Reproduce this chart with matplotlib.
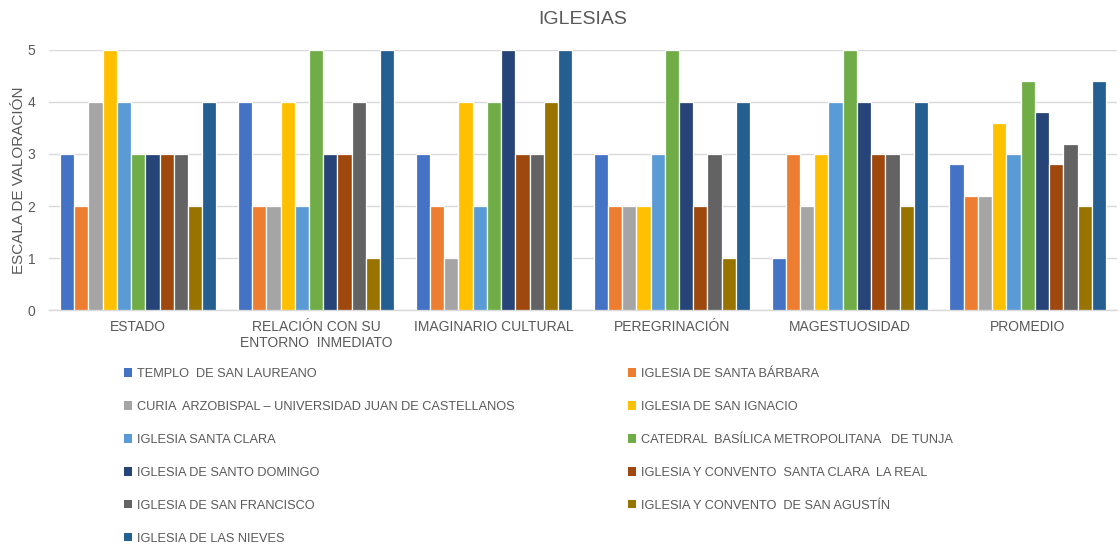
import matplotlib

matplotlib.use("Agg")

import matplotlib.pyplot as plt
import numpy as np
from matplotlib.patches import Patch

plt.rcParams["font.family"] = ["Liberation Sans", "DejaVu Sans"]

categories = [
    "ESTADO",
    "RELACIÓN CON SU\nENTORNO  INMEDIATO",
    "IMAGINARIO CULTURAL",
    "PEREGRINACIÓN",
    "MAGESTUOSIDAD",
    "PROMEDIO",
]

churches = [
    "TEMPLO  DE SAN LAUREANO",
    "IGLESIA DE SANTA BÁRBARA",
    "CURIA  ARZOBISPAL – UNIVERSIDAD JUAN DE CASTELLANOS",
    "IGLESIA DE SAN IGNACIO",
    "IGLESIA SANTA CLARA",
    "CATEDRAL  BASÍLICA METROPOLITANA   DE TUNJA",
    "IGLESIA DE SANTO DOMINGO",
    "IGLESIA Y CONVENTO  SANTA CLARA  LA REAL",
    "IGLESIA DE SAN FRANCISCO",
    "IGLESIA Y CONVENTO  DE SAN AGUSTÍN",
    "IGLESIA DE LAS NIEVES",
]

# one list per church: ESTADO, RELACION, IMAGINARIO, PEREGRINACION, MAGESTUOSIDAD, PROMEDIO
san_laureano = [3, 4, 3, 3, 1, 2.8]
santa_barbara = [2, 2, 2, 2, 3, 2.2]
curia = [4, 2, 1, 2, 2, 2.2]
san_ignacio = [5, 4, 4, 2, 3, 3.6]
santa_clara = [4, 2, 2, 3, 4, 3.0]
catedral = [3, 5, 4, 5, 5, 4.4]
santo_domingo = [3, 3, 5, 4, 4, 3.8]
santa_clara_real = [3, 3, 3, 2, 3, 2.8]
san_francisco = [3, 4, 3, 3, 3, 3.2]
san_agustin = [2, 1, 4, 1, 2, 2.0]
las_nieves = [4, 5, 5, 4, 4, 4.4]

series = [san_laureano, santa_barbara, curia, san_ignacio, santa_clara, catedral,
          santo_domingo, santa_clara_real, san_francisco, san_agustin, las_nieves]

colors = ["#4472C4", "#ED7D31", "#A5A5A5", "#FFC000", "#5B9BD5", "#70AD47",
          "#264478", "#9E480E", "#636363", "#997300", "#255E91"]

text_color = "#595959"

fig = plt.figure(figsize=(11.2, 5.48), dpi=100)
ax = fig.add_axes([0.044, 0.434, 0.953, 0.475])

x = np.arange(len(categories))
pitch = 1 / 12.5
for i, (vals, col) in enumerate(zip(series, colors)):
    offset = (i - (len(series) - 1) / 2) * pitch
    ax.bar(x + offset, vals, width=pitch, color=col, edgecolor="white",
           linewidth=0.9, zorder=3)

ax.set_xlim(-0.5, len(categories) - 0.5)
ax.set_ylim(0, 5)
ax.set_yticks(range(6))
ax.grid(axis="y", color="#D9D9D9", linewidth=1, zorder=0)
for side in ["left", "right", "top"]:
    ax.spines[side].set_visible(False)
ax.spines["bottom"].set_color("#D9D9D9")
ax.spines["bottom"].set_linewidth(1)
ax.tick_params(axis="both", length=0, labelsize=10, colors=text_color)
ax.tick_params(axis="x", pad=7)
ax.tick_params(axis="y", pad=10)
ax.set_xticks(x)
ax.set_xticklabels(categories, linespacing=1.15)
ax.set_ylabel("ESCALA DE VALORACIÓN", fontsize=11, color=text_color, labelpad=1)
ax.set_title("IGLESIAS", fontsize=14, color=text_color, y=1.1, pad=0)

# Excel fills the legend row by row; matplotlib fills column by column
order = list(range(0, 11, 2)) + list(range(1, 11, 2))
handles = [Patch(facecolor=colors[i], edgecolor="none") for i in order]
labels = [churches[i] for i in order]
fig.legend(handles, labels, ncol=2, loc="upper left", bbox_to_anchor=(0.106, 0.338),
           frameon=False, fontsize=9.2, labelcolor=text_color,
           handlelength=0.65, handleheight=0.65, handletextpad=0.35,
           columnspacing=8.9, labelspacing=1.64, borderaxespad=0)

fig.savefig("out.png", dpi=100)
